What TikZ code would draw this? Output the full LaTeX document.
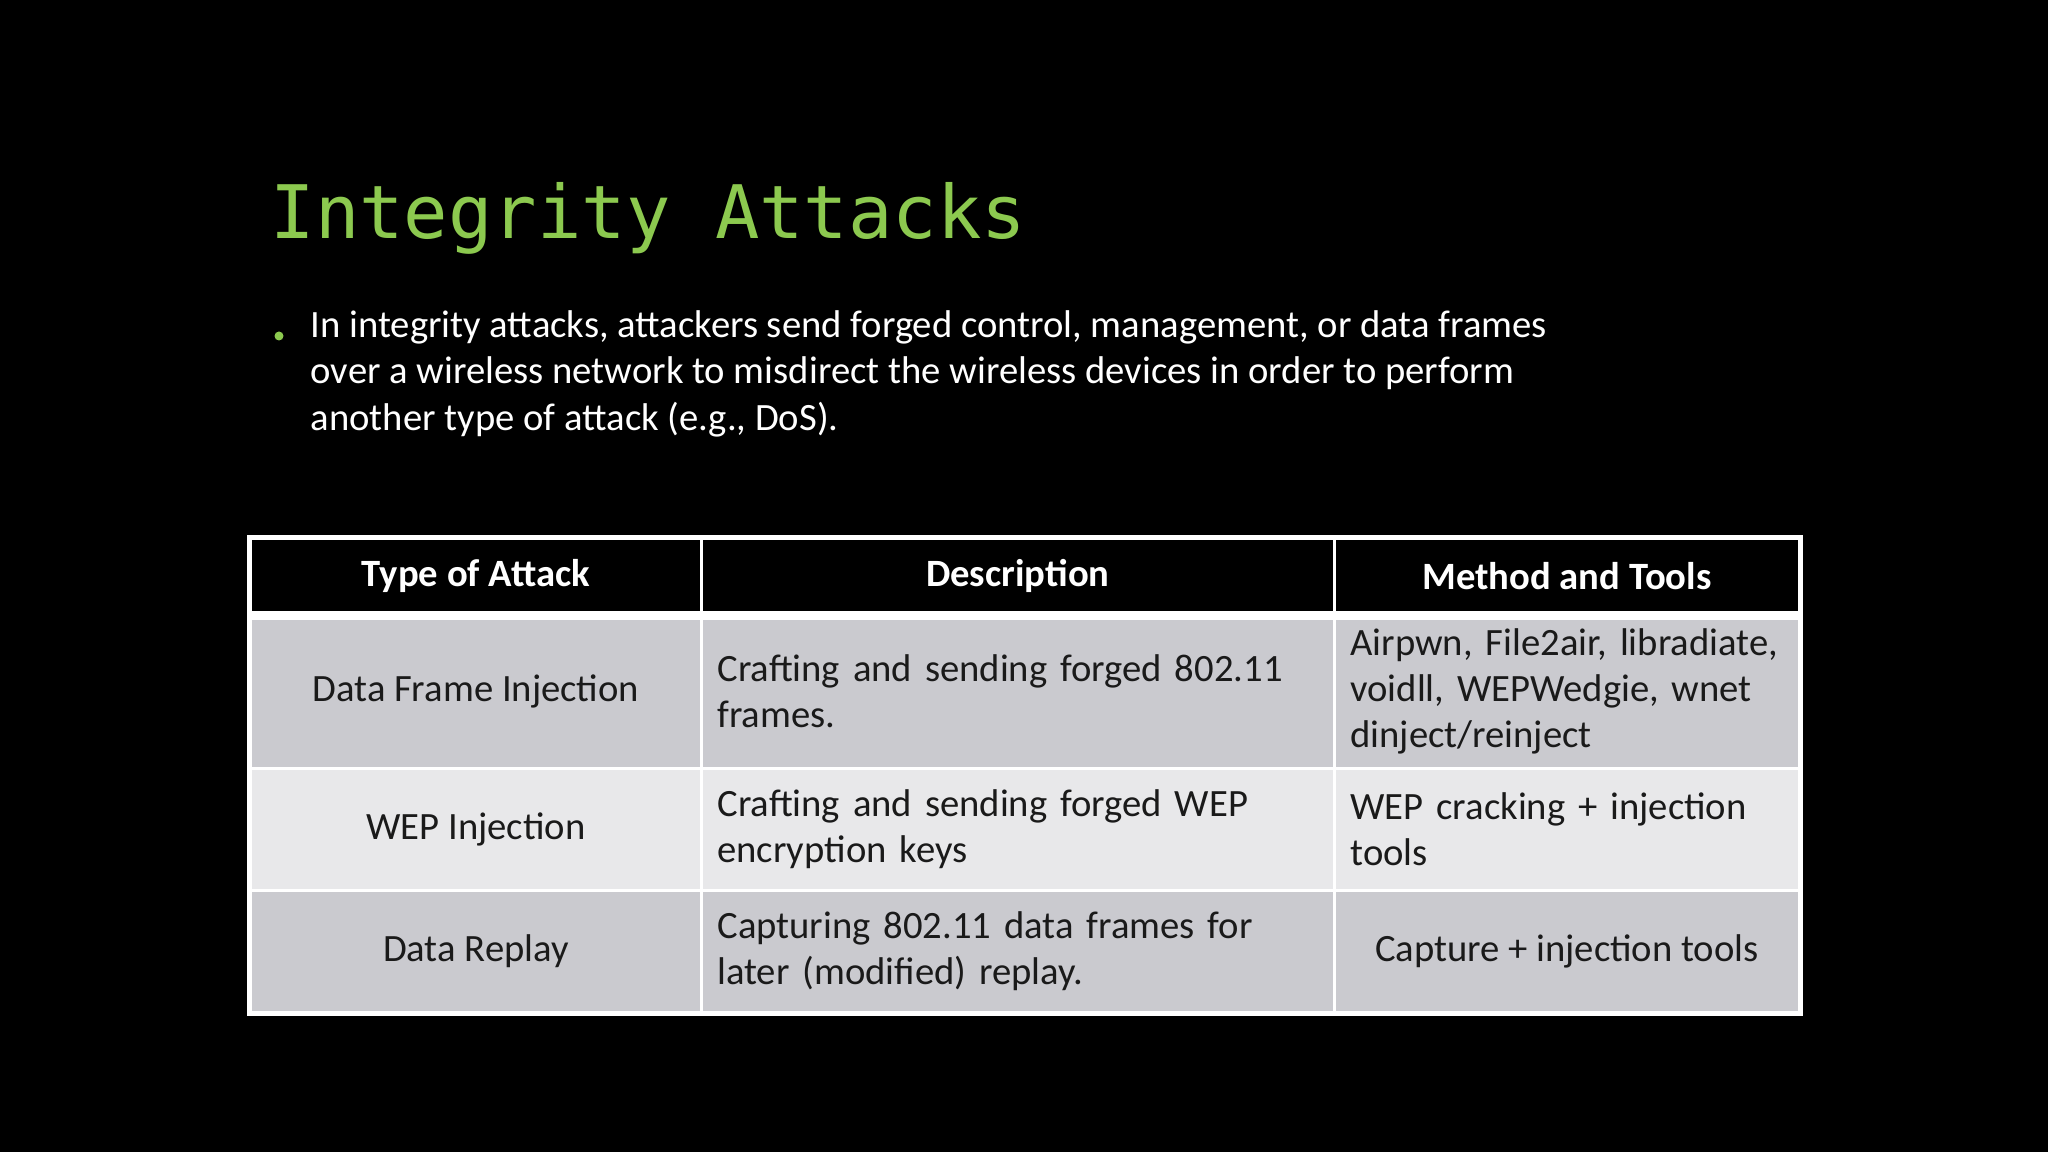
\documentclass[tikz,border=0pt]{standalone}
\usepackage{fontspec}
\setmainfont{Carlito}
\newfontfamily\titlefont{DejaVu Sans Mono}
\definecolor{titlegreen}{HTML}{8CC94F}
\definecolor{rowdark}{HTML}{CACACF}
\definecolor{rowlight}{HTML}{E8E8EA}
\definecolor{cellink}{HTML}{1A1A1A}
\begin{document}
\begin{tikzpicture}[x=1cm,y=1cm]
  \tikzset{every node/.style={inner sep=0pt},
    cell/.style={draw=white,line width=0.8pt,anchor=north west,text=cellink,
      font=\fontsize{11}{13.2}\selectfont,inner xsep=0.16cm},
    headcell/.style={cell,fill=black,text=white,font=\fontsize{11}{13.2}\selectfont\bfseries}}
  \fill[black] (0,0) rectangle (20.48,-11.52);
  \useasboundingbox (0,0) rectangle (20.48,-11.52);
  % title and bullet
  \node[anchor=west,text=titlegreen,font=\titlefont\fontsize{21}{24}\selectfont] (title) at (2.70,-2.18) {Integrity Attacks};
  \node[circle,fill=titlegreen,minimum size=0.09cm] (dot) at (2.79,-3.36) {};
  \node[anchor=north west,align=left,text=white,font=\fontsize{11}{13.2}\selectfont] (intro) at (3.10,-3.10)
    {In integrity attacks, attackers send forged control, management, or data frames\\
     over a wireless network to misdirect the wireless devices in order to perform\\
     another type of attack (e.g., DoS).};
  % header row
  \node[headcell,minimum width=4.51cm,minimum height=0.76cm,align=center] (h1) at (2.49,-5.37) {Type of Attack};
  \node[headcell,minimum width=6.33cm,minimum height=0.76cm,align=center] (h2) at (7.00,-5.37) {Description};
  \node[headcell,minimum width=4.65cm,minimum height=0.76cm,align=center] (h3) at (13.33,-5.37) {Method and Tools};
  % row 1
  \node[cell,fill=rowdark,minimum width=4.51cm,minimum height=1.54cm,align=center] (a1) at (2.49,-6.13) {Data Frame Injection};
  \node[cell,fill=rowdark,minimum width=6.33cm,minimum height=1.54cm,text width=6.01cm,align=left] (b1) at (7.00,-6.13)
    {Crafting and sending forged 802.11\\ frames.};
  \node[cell,fill=rowdark,minimum width=4.65cm,minimum height=1.54cm,text width=4.33cm,align=left] (c1) at (13.33,-6.13)
    {Airpwn, File2air, libradiate,\\ voidll, WEPWedgie, wnet\\ dinject/reinject};
  % row 2
  \node[cell,fill=rowlight,minimum width=4.51cm,minimum height=1.22cm,align=center] (a2) at (2.49,-7.67) {WEP Injection};
  \node[cell,fill=rowlight,minimum width=6.33cm,minimum height=1.22cm,text width=6.01cm,align=left] (b2) at (7.00,-7.67)
    {Crafting and sending forged WEP\\ encryption keys};
  \node[cell,fill=rowlight,minimum width=4.65cm,minimum height=1.22cm,text width=4.33cm,align=left] (c2) at (13.33,-7.67)
    {WEP cracking + injection\\ tools};
  % row 3
  \node[cell,fill=rowdark,minimum width=4.51cm,minimum height=1.22cm,align=center] (a3) at (2.49,-8.89) {Data Replay};
  \node[cell,fill=rowdark,minimum width=6.33cm,minimum height=1.22cm,text width=6.01cm,align=left] (b3) at (7.00,-8.89)
    {Capturing 802.11 data frames for\\ later (modified) replay.};
  \node[cell,fill=rowdark,minimum width=4.65cm,minimum height=1.22cm,align=center] (c3) at (13.33,-8.89)
    {Capture + injection tools};
  \draw[white,line width=2.5pt] (h1.south west) -- (h3.south east);
  \draw[white,line width=1.2pt] (h1.north west) rectangle (c3.south east);
\end{tikzpicture}
\end{document}
